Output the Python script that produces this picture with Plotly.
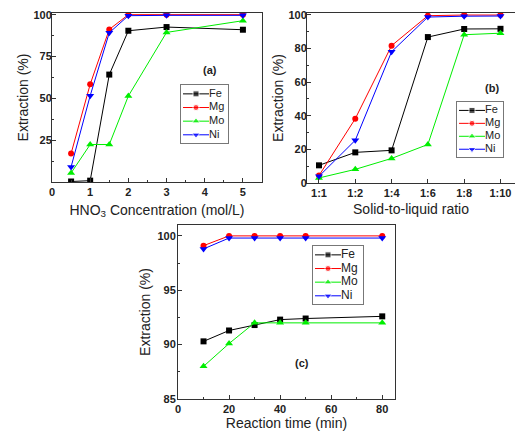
import plotly.graph_objects as go

# ---------------- data ----------------
series = ["Fe", "Mg", "Mo", "Ni"]
colors = {"Fe": "#000000", "Mg": "#ff0000", "Mo": "#00ee00", "Ni": "#0000ff"}
symbols = {"Fe": "square", "Mg": "circle", "Mo": "triangle-up", "Ni": "triangle-down"}

# (a) HNO3 concentration (mol/L)
conc = [0.5, 1, 1.5, 2, 3, 5]
a_fe = [0.3, 0.8, 64.2, 90.4, 92.6, 91.0]
a_mg = [17.0, 58.4, 91.2, 100.0, 100.0, 100.0]
a_mo = [5.4, 22.4, 22.4, 51.4, 89.4, 96.4]
a_ni = [9.0, 51.6, 89.2, 99.4, 99.6, 99.6]

# (b) Solid-to-liquid ratio
ratio = ["1:1", "1:2", "1:4", "1:6", "1:8", "1:10"]
b_fe = [10.5, 18.2, 19.4, 86.7, 91.5, 91.6]
b_mg = [4.4, 38.2, 81.6, 99.4, 99.8, 99.8]
b_mo = [3.0, 8.1, 14.6, 22.9, 88.1, 89.0]
b_ni = [4.0, 25.4, 78.0, 98.6, 99.1, 99.2]

# (c) Reaction time (min)
rtime = [10, 20, 30, 40, 50, 80]
c_fe = [90.3, 91.3, 91.8, 92.3, 92.4, 92.6]
c_mg = [99.1, 100.0, 100.0, 100.0, 100.0, 100.0]
c_mo = [88.0, 90.1, 92.0, 92.0, 92.0, 92.0]
c_ni = [98.8, 99.8, 99.8, 99.8, 99.8, 99.8]

panels = [
    ("x", "y", conc, {"Fe": a_fe, "Mg": a_mg, "Mo": a_mo, "Ni": a_ni}),
    ("x2", "y2", ratio, {"Fe": b_fe, "Mg": b_mg, "Mo": b_mo, "Ni": b_ni}),
    ("x3", "y3", rtime, {"Fe": c_fe, "Mg": c_mg, "Mo": c_mo, "Ni": c_ni}),
]

W, H = 515, 435
FONT = "Liberation Sans, Arial, sans-serif"


def msize(s):
    return 6 if s in ("Fe", "Mg") else 7


fig = go.Figure()
for xa, ya, xs, data in panels:
    for s in series:
        fig.add_trace(go.Scatter(
            x=xs, y=data[s], name=s, xaxis=xa, yaxis=ya,
            mode="lines+markers", showlegend=False,
            line=dict(color=colors[s], width=1),
            marker=dict(symbol=symbols[s], color=colors[s], size=msize(s)),
        ))

# ---- framed legend boxes (one small hidden axis pair per panel) ----
# (x-axis id, y-axis id, left px, right px, top px, bottom px, font size)
legend_boxes = [
    ("x4", "y4", 181, 228, 85, 143, 11),
    ("x5", "y5", 457, 503, 102, 157, 11),
    ("x6", "y6", 313, 363, 246, 304, 12),
]
for xa, ya, l, r, t, b, fs in legend_boxes:
    for i, s in enumerate(series):
        fig.add_trace(go.Scatter(
            x=[2, 15, 28], y=[i, i, i], xaxis=xa, yaxis=ya, showlegend=False,
            mode="lines+markers", hoverinfo="skip",
            line=dict(color=colors[s], width=1),
            marker=dict(symbol=symbols[s], color=colors[s], size=[0, msize(s), 0]),
        ))
    fig.add_trace(go.Scatter(
        x=[28] * len(series), y=list(range(len(series))), text=series,
        xaxis=xa, yaxis=ya, showlegend=False, mode="text", hoverinfo="skip",
        textposition="middle right", cliponaxis=False,
        textfont=dict(family=FONT, size=fs, color="#222"),
    ))


def px_x(p):
    return p / W


def px_y(p):
    return 1 - p / H


axis_common = dict(
    automargin=False,
    showline=True, linecolor="#333", linewidth=1, mirror=True,
    ticks="inside", ticklen=4, tickcolor="#333", tickwidth=1,
    showgrid=False, zeroline=False,
    tickfont=dict(family=FONT, size=11, color="#222", weight="bold"),
    title_font=dict(family=FONT, size=14, color="#222"),
)


def minor(d):
    return dict(dtick=d, ticks="inside", ticklen=2, tickcolor="#333", showgrid=False)


layout = dict(
    template="none",
    width=W, height=H,
    margin=dict(l=0, r=0, t=0, b=0, autoexpand=False),
    paper_bgcolor="white", plot_bgcolor="white",
    showlegend=False,
    font=dict(family=FONT, color="#222"),
    xaxis=dict(axis_common, domain=[px_x(52), px_x(262)], anchor="y",
               range=[0, 5.5], tickvals=[0, 1, 2, 3, 4, 5], minor=minor(0.5),
               title=dict(text="HNO<sub>3</sub> Concentration (mol/L)", standoff=7)),
    yaxis=dict(axis_common, domain=[px_y(182), px_y(13)], anchor="x",
               range=[0, 101], tickvals=[25, 50, 75, 100], minor=minor(12.5),
               ticklabelstandoff=-3,
               title=dict(text="Extraction (%)", standoff=1)),
    xaxis2=dict(axis_common, domain=[px_x(307), 1.0], anchor="y2",
                type="category", range=[-0.33, 5.4],
                title=dict(text="Solid-to-liquid ratio", standoff=5)),
    yaxis2=dict(axis_common, domain=[px_y(183), px_y(13)], anchor="x2",
                range=[0, 101], tickvals=[0, 20, 40, 60, 80, 100], minor=minor(10),
                ticklabelstandoff=-3,
                title=dict(text="Extraction (%)", standoff=1)),
    xaxis3=dict(axis_common, domain=[px_x(178), px_x(395)], anchor="y3",
                range=[0, 85], tickvals=[0, 20, 40, 60, 80], minor=minor(10),
                title=dict(text="Reaction time (min)", standoff=0)),
    yaxis3=dict(axis_common, domain=[px_y(399), px_y(225)], anchor="x3",
                range=[85, 101], tickvals=[85, 90, 95, 100], minor=minor(2.5),
                ticklabelstandoff=-1,
                title=dict(text="Extraction (%)", standoff=3)),
)
for xa, ya, l, r, t, b, fs in legend_boxes:
    xn = "xaxis" + xa[1:]
    yn = "yaxis" + ya[1:]
    layout[xn] = dict(domain=[px_x(l), px_x(r)], anchor=ya, range=[0, r - l],
                      automargin=False,
                      showline=True, mirror=True, linecolor="#777", linewidth=1,
                      showticklabels=False, ticks="", showgrid=False, zeroline=False,
                      fixedrange=True)
    layout[yn] = dict(domain=[px_y(b), px_y(t)], anchor=xa, range=[3.6, -0.65],
                      automargin=False,
                      showline=True, mirror=True, linecolor="#777", linewidth=1,
                      showticklabels=False, ticks="", showgrid=False, zeroline=False,
                      fixedrange=True)
fig.update_layout(**layout)

ann_font = dict(family=FONT, size=11, color="#222", weight="bold")
for label, ax, ay in [("(a)", 210, 70), ("(b)", 492, 88), ("(c)", 302, 363)]:
    fig.add_annotation(text=label, x=px_x(ax), y=px_y(ay), xref="paper", yref="paper",
                       xanchor="center", yanchor="middle", showarrow=False, font=ann_font)

fig.write_html("out.html", config={"displayModeBar": False},
               post_script="document.body.style.margin='0px';")
